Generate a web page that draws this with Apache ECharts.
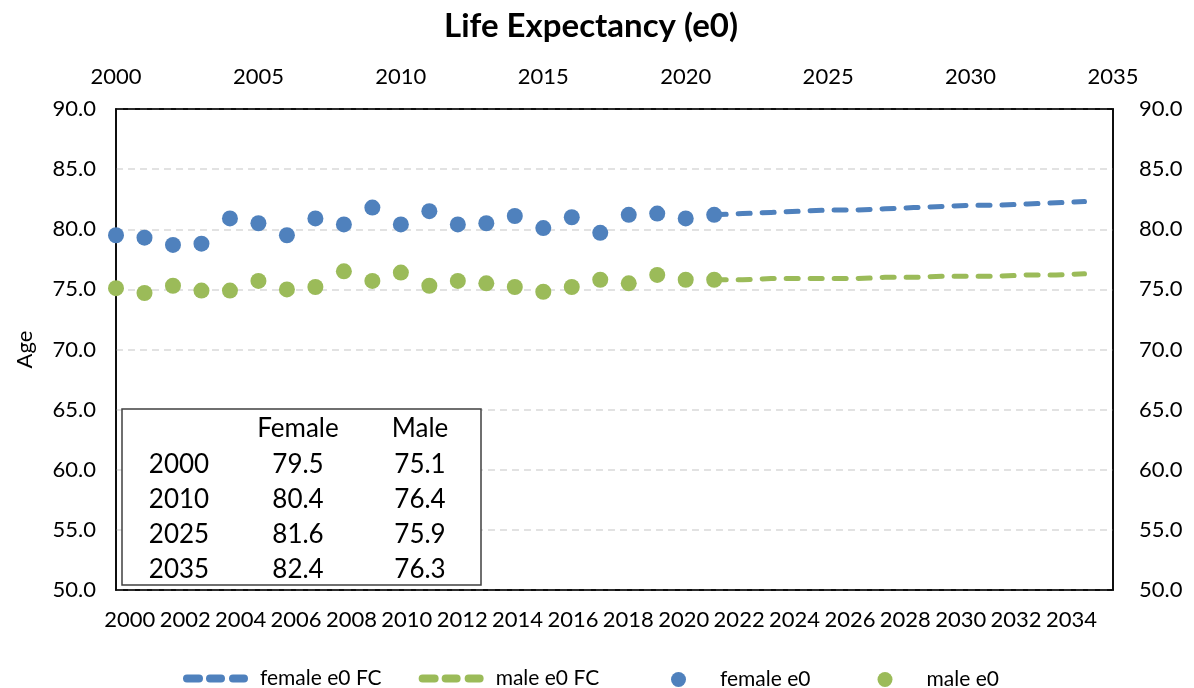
<!DOCTYPE html>
<html>
<head>
<meta charset="utf-8">
<script src="https://cdn.jsdelivr.net/npm/echarts@6/dist/echarts.min.js"></script>
<style>
html,body{margin:0;padding:0;background:#fff;}
#chart{width:1194px;height:688px;}
</style>
</head>
<body>
<div id="chart"></div>
<script>
// ---- data ----
const categoryYears = ['2000','2001','2002','2003','2004','2005','2006','2007','2008','2009','2010','2011','2012','2013','2014','2015','2016','2017','2018','2019','2020','2021','2022','2023','2024','2025','2026','2027','2028','2029','2030','2031','2032','2033','2034','2035'];
const obsYears = [2000,2001,2002,2003,2004,2005,2006,2007,2008,2009,2010,2011,2012,2013,2014,2015,2016,2017,2018,2019,2020,2021];
const femaleE0 = [79.5,79.3,78.7,78.8,80.9,80.5,79.5,80.9,80.4,81.8,80.4,81.5,80.4,80.5,81.1,80.1,81.0,79.7,81.2,81.3,80.9,81.2];
const maleE0   = [75.1,74.7,75.3,74.9,74.9,75.7,75.0,75.2,76.5,75.7,76.4,75.3,75.7,75.5,75.2,74.8,75.2,75.8,75.5,76.2,75.8,75.8];
const fcYears = [2021,2022,2023,2024,2025,2026,2027,2028,2029,2030,2031,2032,2033,2034];
const femaleFC = [81.2,81.3,81.4,81.5,81.6,81.6,81.7,81.8,81.9,82.0,82.0,82.1,82.2,82.3];
const maleFC   = [75.8,75.8,75.9,75.9,75.9,75.9,76.0,76.0,76.1,76.1,76.1,76.2,76.2,76.3];
const tableHeader = ['', 'Female', 'Male'];
const tableYears = ['2000','2010','2025','2035'];
const tableFemale = ['79.5','80.4','81.6','82.4'];
const tableMale = ['75.1','76.4','75.9','76.3'];

const FONT = 'Lato';
const BLUE = '#4f81bd';
const GREEN = '#9bbb59';
const pair = (xs, ys) => xs.map((x, i) => [x, ys[i]]);

// table graphic
const colX = [179, 298, 420];
const rowY = [429, 465, 500, 535, 570];
const tableTexts = [];
const rows = [tableHeader].concat(tableYears.map((y, i) => [y, tableFemale[i], tableMale[i]]));
rows.forEach((r, ri) => {
  r.forEach((t, ci) => {
    if (!t) return;
    tableTexts.push({
      type: 'text', x: colX[ci], y: rowY[ri], z: 101,
      style: { text: t, fill: '#000', font: '26px ' + FONT, textAlign: 'center', textVerticalAlign: 'middle' }
    });
  });
});

const dashIcon = 'path://M4,0 L16,0 A4,4 0 0 1 16,8 L4,8 A4,4 0 0 1 4,0 Z M27,0 L38,0 A4,4 0 0 1 38,8 L27,8 A4,4 0 0 1 27,0 Z M50,0 L61,0 A4,4 0 0 1 61,8 L50,8 A4,4 0 0 1 50,0 Z';

const chart = echarts.init(document.getElementById('chart'));
chart.setOption({
  animation: false,
  backgroundColor: '#fff',
  title: {
    text: 'Life Expectancy (e0)',
    left: 586, top: 5, textAlign: 'center',
    textStyle: { fontFamily: FONT, fontWeight: 'bold', fontSize: 33, color: '#000' }
  },
  grid: {
    left: 116, right: 81, top: 109, bottom: 98,
    show: true, borderColor: '#000', borderWidth: 1.5, backgroundColor: 'transparent'
  },
  legend: [
    {
      data: ['female e0 FC', 'male e0 FC'],
      left: 178, top: 663,
      icon: dashIcon, itemWidth: 65, itemHeight: 8, itemGap: 37,
      textStyle: { fontFamily: FONT, fontSize: 21, color: '#000', padding: [0, 0, 0, 7] }
    },
    {
      data: ['female e0', 'male e0'],
      left: 666, top: 664,
      icon: 'circle', itemWidth: 15, itemHeight: 15, itemGap: 67,
      itemStyle: { opacity: 1 },
      textStyle: { fontFamily: FONT, fontSize: 21, color: '#000', padding: [0, 0, 0, 29] }
    }
  ],
  xAxis: [
    {
      type: 'category', position: 'bottom', data: categoryYears,
      boundaryGap: true,
      axisLine: { show: true, lineStyle: { color: '#000', width: 1.5 } },
      axisTick: { show: false },
      axisLabel: { interval: 1, margin: 19, fontFamily: FONT, fontSize: 22, color: '#000' },
      splitLine: { show: false }
    },
    {
      type: 'value', position: 'top', min: 2000, max: 2035, interval: 5,
      axisLine: { show: true, lineStyle: { color: '#000', width: 1.5 } },
      axisTick: { show: false },
      axisLabel: { margin: 21, fontFamily: FONT, fontSize: 22, color: '#000', formatter: v => String(v) },
      splitLine: { show: false }
    }
  ],
  yAxis: [
    {
      type: 'value', position: 'left', min: 50, max: 90, interval: 5,
      name: 'Age', nameLocation: 'middle', nameGap: 80, nameRotate: 90,
      nameTextStyle: { fontFamily: FONT, fontSize: 22, color: '#000' },
      axisLine: { show: true, lineStyle: { color: '#000', width: 1.5 } },
      axisTick: { show: false },
      axisLabel: { margin: 20, fontFamily: FONT, fontSize: 22, color: '#000', formatter: v => v.toFixed(1) },
      splitLine: { show: true, lineStyle: { color: '#d9d9d9', width: 1.5, type: [7, 5] } }
    },
    {
      type: 'value', position: 'right', min: 50, max: 90, interval: 5,
      axisLine: { show: true, lineStyle: { color: '#000', width: 1.5 } },
      axisTick: { show: false },
      axisLabel: { margin: 26, fontFamily: FONT, fontSize: 22, color: '#000', formatter: v => v.toFixed(1) },
      splitLine: { show: false }
    }
  ],
  series: [
    {
      name: 'female e0 FC', type: 'line', xAxisIndex: 1, yAxisIndex: 0,
      data: pair(fcYears, femaleFC), symbol: 'none', color: BLUE,
      lineStyle: { color: BLUE, width: 5, type: [12, 12], cap: 'round' }, z: 3
    },
    {
      name: 'male e0 FC', type: 'line', xAxisIndex: 1, yAxisIndex: 0,
      data: pair(fcYears, maleFC), symbol: 'none', color: GREEN,
      lineStyle: { color: GREEN, width: 5, type: [12, 12], cap: 'round' }, z: 3
    },
    {
      name: 'female e0', type: 'scatter', xAxisIndex: 1, yAxisIndex: 0,
      data: pair(obsYears, femaleE0), symbol: 'circle', symbolSize: 16,
      itemStyle: { color: BLUE, opacity: 1 }, color: BLUE, z: 4
    },
    {
      name: 'male e0', type: 'scatter', xAxisIndex: 1, yAxisIndex: 0,
      data: pair(obsYears, maleE0), symbol: 'circle', symbolSize: 16,
      itemStyle: { color: GREEN, opacity: 1 }, color: GREEN, z: 4
    }
  ],
  graphic: [
    {
      type: 'rect', z: 100,
      shape: { x: 122, y: 409, width: 359, height: 176 },
      style: { fill: '#fff', stroke: '#404040', lineWidth: 1.5 }
    }
  ].concat(tableTexts)
});
</script>
</body>
</html>
